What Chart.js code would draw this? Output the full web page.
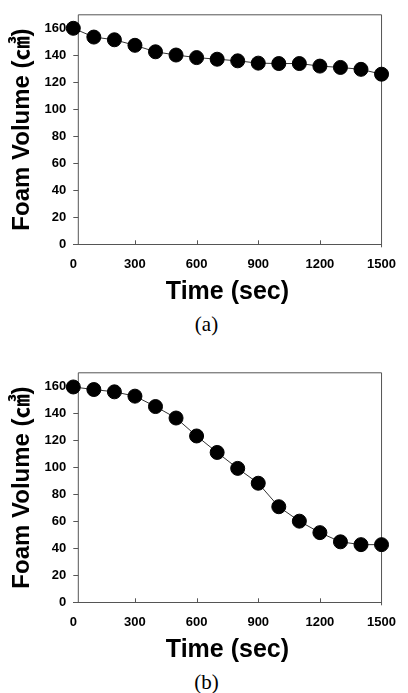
<!DOCTYPE html>
<html>
<head>
<meta charset="utf-8">
<script src="https://cdn.jsdelivr.net/npm/chart.js@4/dist/chart.umd.min.js"></script>
<style>
  body { margin: 0; background: #fff; width: 408px; height: 693px; position: relative; overflow: hidden; }
  .panel { position: absolute; left: 0; width: 408px; }
  .caption { position: absolute; left: 0; width: 413px; text-align: center;
             font-family: 'Liberation Serif', 'Times New Roman', serif; font-size: 21px; color: #000; }
</style>
</head>
<body>
<div class="panel" style="top:0"><canvas id="chart-a" width="408" height="312"></canvas></div>
<div class="caption" style="top:312px">(a)</div>
<div class="panel" style="top:358px"><canvas id="chart-b" width="408" height="312"></canvas></div>
<div class="caption" style="top:670px">(b)</div>
<script>
const timeSec = [0, 100, 200, 300, 400, 500, 600, 700, 800, 900, 1000, 1100, 1200, 1300, 1400, 1500];
const foamA = [160, 153.5, 151.5, 147.4, 142.6, 140.2, 138.3, 137.1, 135.9, 134.2, 133.9, 133.9, 132, 131, 129.6, 126];
const foamB = [159.5, 157.6, 155.9, 152.7, 145, 136.5, 123.2, 111, 99.2, 88.2, 70.8, 60.1, 51.6, 44.8, 42.7, 42.7];
const xTickValues = [0, 300, 600, 900, 1200, 1500];
const yTickValues = [0, 20, 40, 60, 80, 100, 120, 140, 160];

const fontFamily = "'Liberation Sans', Arial, 'Noto Sans CJK JP', sans-serif";
const axisColor = '#555';

// SigmaPlot-like frame: left axis sits a few px right of x=0, plus top/right lines
const framePlugin = {
  id: 'frame',
  beforeDatasetsDraw(chart) {
    const {ctx, chartArea: area, scales: {x, y}} = chart;
    const leftX = area.left + 5;
    ctx.save();
    ctx.strokeStyle = axisColor;
    ctx.lineWidth = 1;
    ctx.beginPath();
    ctx.moveTo(leftX, area.bottom);
    ctx.lineTo(leftX, area.top);
    ctx.lineTo(area.right, area.top);
    ctx.lineTo(area.right, area.bottom + 3);
    for (const v of yTickValues) {
      const py = Math.round(y.getPixelForValue(v)) + 0.5;
      ctx.moveTo(leftX - 5, py);
      ctx.lineTo(leftX, py);
    }
    for (const v of xTickValues.slice(1, -1)) {
      const px = Math.round(x.getPixelForValue(v)) + 0.5;
      ctx.moveTo(px, area.bottom);
      ctx.lineTo(px, area.bottom - 4);
    }
    ctx.stroke();
    ctx.restore();
  }
};

function makeChart(canvasId, values) {
  const ctx = document.getElementById(canvasId).getContext('2d');
  return new Chart(ctx, {
    type: 'line',
    data: {
      datasets: [
        {
          data: timeSec.map((t, i) => ({x: t, y: values[i]})),
          borderColor: '#333',
          borderWidth: 1,
          pointRadius: 7,
          pointBorderWidth: 1,
          pointBackgroundColor: '#000',
          pointBorderColor: '#000',
          clip: false
        }
      ]
    },
    options: {
      responsive: false,
      animation: false,
      events: [],
      layout: { autoPadding: false, padding: { top: 9.5, right: 18, bottom: 3.7, left: 0 } },
      plugins: { legend: { display: false }, tooltip: { enabled: false } },
      scales: {
        x: {
          type: 'linear',
          min: 0,
          max: 1500,
          afterBuildTicks: scale => { scale.ticks = xTickValues.map(v => ({value: v})); },
          afterFit: scale => { scale.height = 64; },
          grid: { display: true, drawOnChartArea: false, drawTicks: false },
          border: { display: true, color: axisColor, width: 1 },
          ticks: { color: '#000', padding: 12, maxRotation: 0,
                   callback: v => String(v),
                   font: { family: fontFamily, size: 13, weight: 'bold' } },
          title: { display: true, text: 'Time (sec)', color: '#000',
                   padding: { top: 0, bottom: 1 },
                   font: { family: fontFamily, size: 25, weight: 'bold' } }
        },
        y: {
          min: 0,
          max: 170,
          afterBuildTicks: scale => { scale.ticks = yTickValues.map(v => ({value: v})); },
          afterFit: scale => { scale.width = 73.3; },
          grid: { display: false, drawTicks: false },
          border: { display: false },
          ticks: { color: '#000', padding: 7,
                   callback: v => String(v),
                   font: { family: fontFamily, size: 13, weight: 'bold' } },
          title: { display: true, text: 'Foam Volume (㎤)', color: '#000',
                   padding: { top: 8, bottom: 0 },
                   font: { family: fontFamily, size: 24, weight: 'bold' } }
        }
      }
    },
    plugins: [framePlugin]
  });
}

makeChart('chart-a', foamA);
makeChart('chart-b', foamB);
</script>
</body>
</html>
